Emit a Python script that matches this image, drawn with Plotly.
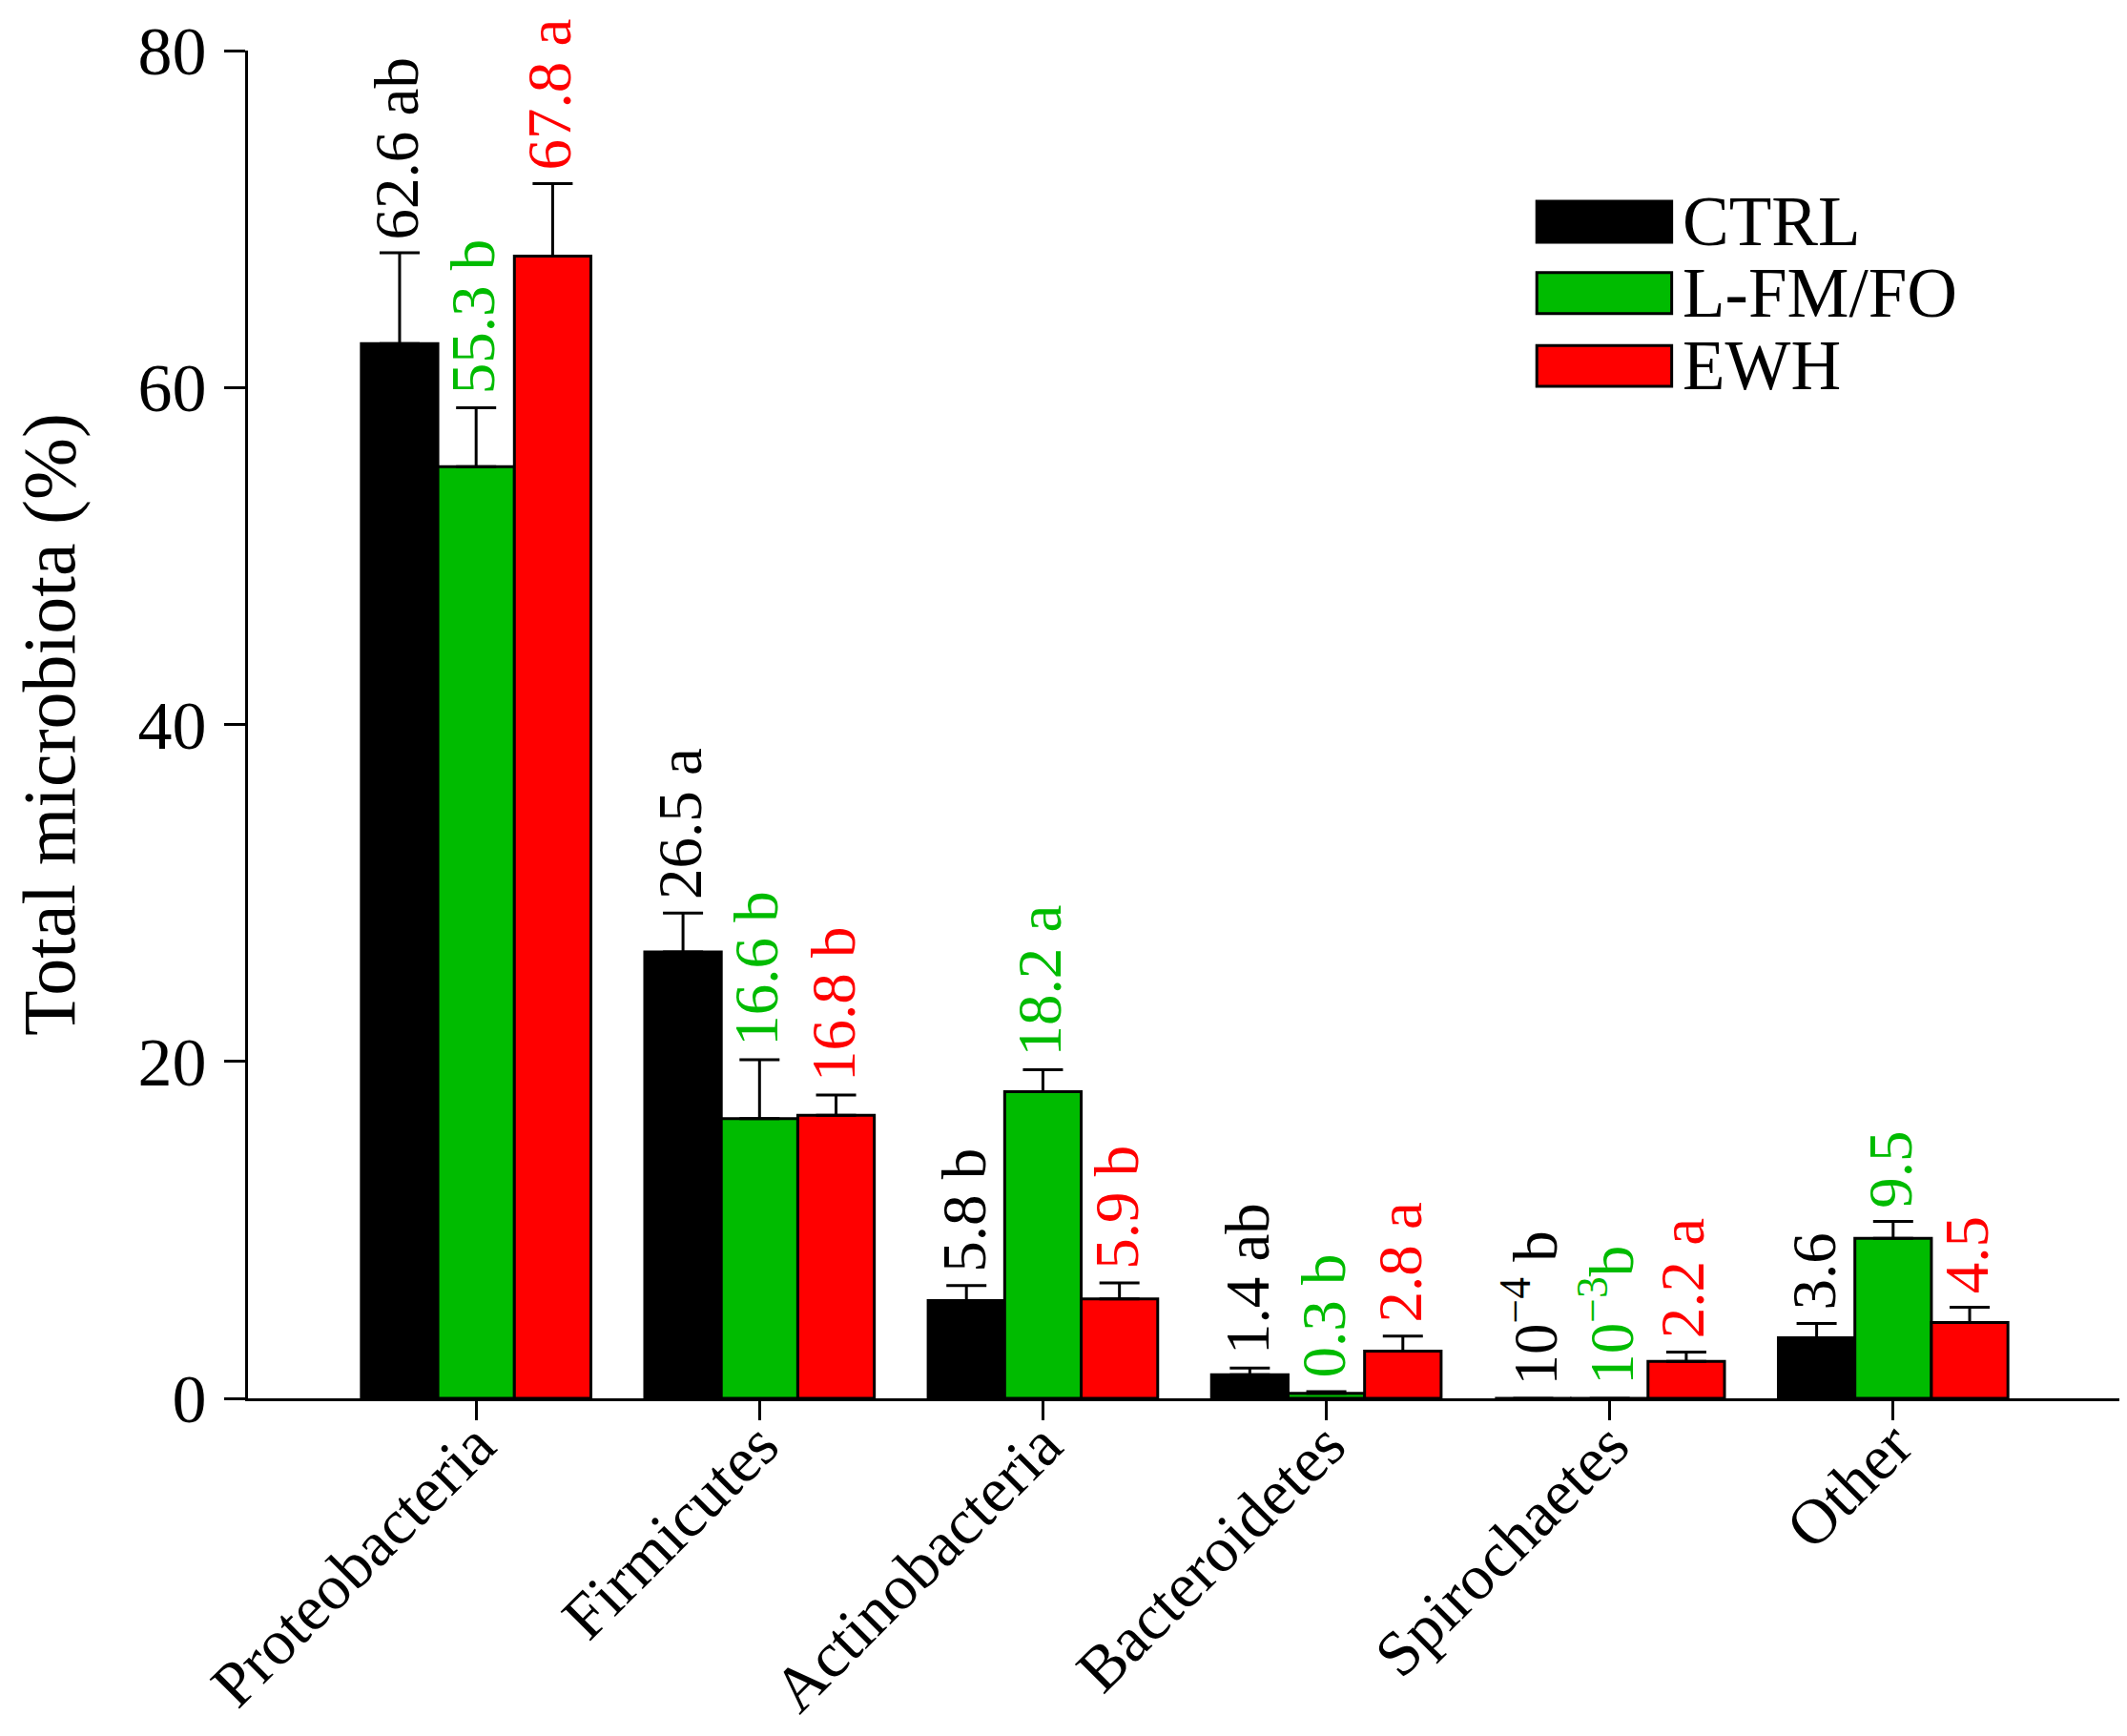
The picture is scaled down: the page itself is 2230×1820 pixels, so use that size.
import plotly.graph_objects as go

# Data

phyla = ['Proteobacteria', 'Firmicutes', 'Actinobacteria', 'Bacteroidetes', 'Spirochaetes', 'Other']
groups = ['CTRL', 'L-FM/FO', 'EWH']
colors = ['#000000', '#00BB00', '#FF0000']

ctrl = [62.6, 26.5, 5.8, 1.4, 0.0001, 3.6]
lfmfo = [55.3, 16.6, 18.2, 0.3, 0.001, 9.5]
ewh = [67.8, 16.8, 5.9, 2.8, 2.2, 4.5]

ctrl_err = [5.4, 2.3, 0.9, 0.4, 0.0, 0.85]
lfmfo_err = [3.5, 3.5, 1.3, 0.1, 0.0, 1.0]
ewh_err = [4.3, 1.2, 0.95, 0.9, 0.55, 0.9]

ctrl_lab = ['62.6 ab', '26.5 a', '5.8 b', '1.4 ab', '10<sup>−4</sup> b', '3.6']
lfmfo_lab = ['55.3 b', '16.6 b', '18.2 a', '0.3 b', '10<sup>−3</sup>b', '9.5']
ewh_lab = ['67.8 a', '16.8 b', '5.9 b', '2.8 a', '2.2 a', '4.5']

series = [(ctrl, ctrl_err, ctrl_lab), (lfmfo, lfmfo_err, lfmfo_lab), (ewh, ewh_err, ewh_lab)]

FONT = 'Liberation Serif, Times New Roman, serif'
xpos = list(range(len(phyla)))
bargap = 0.19
bw = (1 - bargap) / 3

fig = go.Figure()

for j, (vals, errs, labs) in enumerate(series):
    fig.add_trace(go.Bar(
        x=xpos, y=vals, name=groups[j],
        marker=dict(color=colors[j], line=dict(color='black', width=3)),
        error_y=dict(type='data', symmetric=False, array=errs,
                     arrayminus=[0] * len(errs), color='black',
                     thickness=3, width=21),
        showlegend=False))
    # value + significance letters above the error bars
    for i in xpos:
        fig.add_annotation(
            x=i + (j - 1) * bw, y=vals[i] + errs[i], text=labs[i],
            textangle=-90, showarrow=False, xanchor='center', yanchor='bottom',
            yshift=12, xshift=-3, font=dict(family=FONT, size=65, color=colors[j]))

# Custom legend with wide swatches
leg_y = [0.873, 0.820, 0.766]
for j, g in enumerate(groups):
    fig.add_shape(type='rect', xref='paper', yref='paper',
                  x0=0.688, x1=0.760, y0=leg_y[j] - 0.0152, y1=leg_y[j] + 0.0152,
                  fillcolor=colors[j], line=dict(color='black', width=3))
    fig.add_annotation(xref='paper', yref='paper', x=0.765, y=leg_y[j], text=g,
                       showarrow=False, xanchor='left', yanchor='middle',
                       font=dict(family=FONT, size=73, color='black'))

fig.update_layout(
    width=2230, height=1820,
    barmode='group', bargap=bargap, bargroupgap=0,
    plot_bgcolor='white', paper_bgcolor='white',
    margin=dict(l=252, r=14, t=45, b=362),
    font=dict(family=FONT, color='black'))

fig.update_xaxes(
    range=[-0.805, 5.805], tickvals=xpos, ticktext=phyla, tickangle=-45,
    showline=True, linecolor='black', linewidth=3,
    ticks='outside', ticklen=20, tickwidth=3, tickcolor='black',
    showgrid=False, zeroline=False, automargin=False,
    ticklabelstandoff=-40, tickfont=dict(family=FONT, size=67))

fig.update_yaxes(
    range=[0, 80], tickvals=[0, 20, 40, 60, 80],
    showline=True, linecolor='black', linewidth=3,
    ticks='outside', ticklen=22, tickwidth=3, tickcolor='black',
    showgrid=False, zeroline=False, automargin=False,
    ticklabelstandoff=4, tickfont=dict(family=FONT, size=72),
    title=dict(text='Total microbiota (%)', font=dict(family=FONT, size=78), standoff=72))

fig.write_html('out.html')
